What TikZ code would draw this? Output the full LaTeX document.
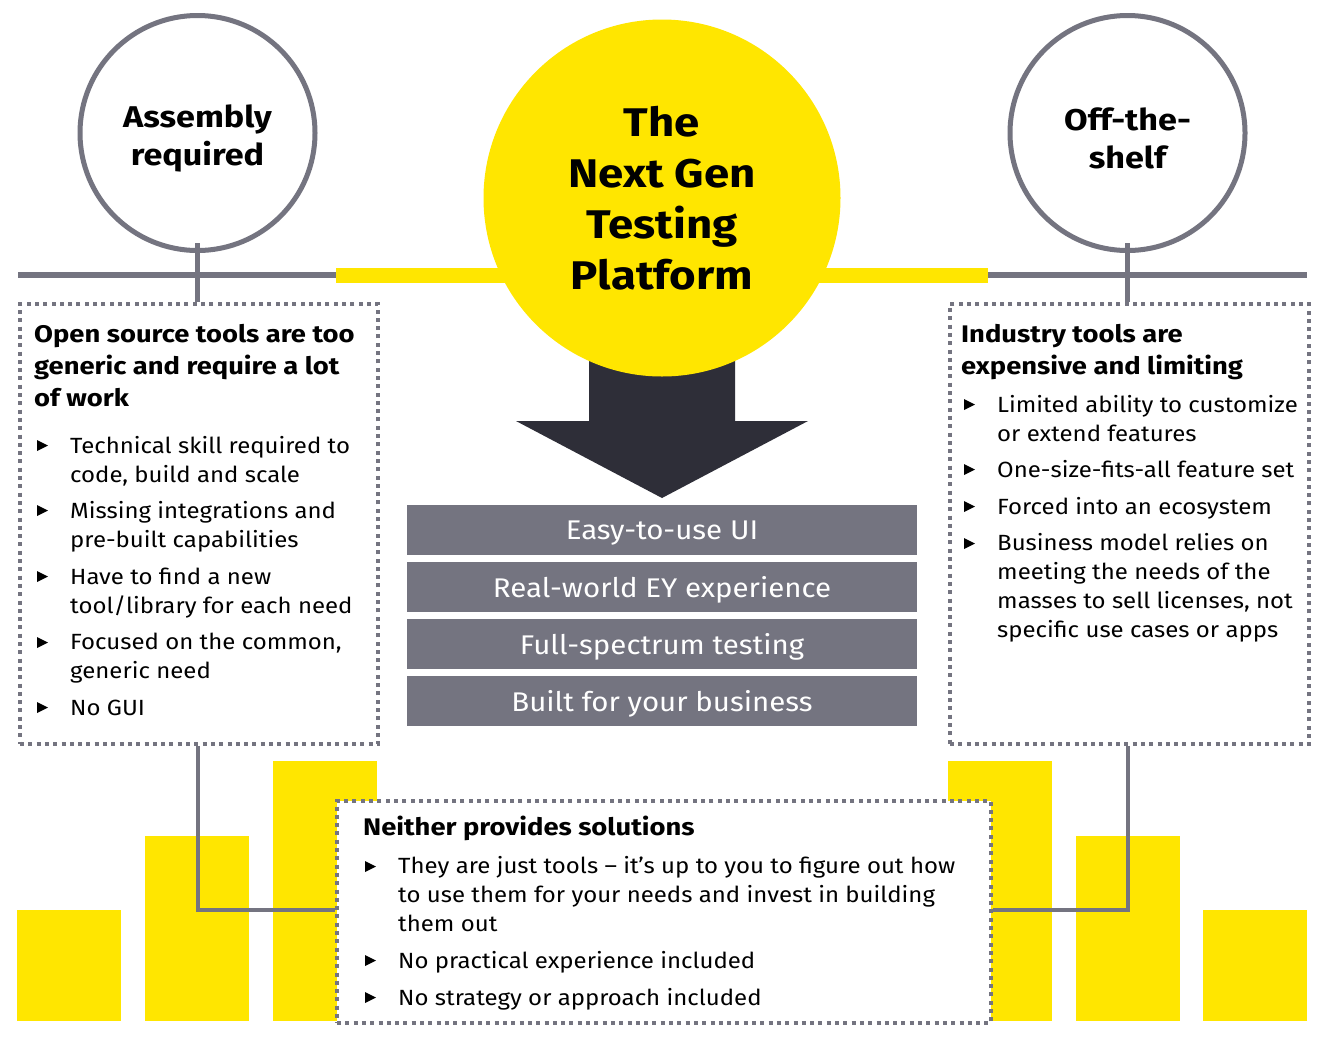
\documentclass[tikz,border=0pt]{standalone}
\usepackage{fontspec}
\setmainfont{Fira Sans}[FakeStretch=1.09]
\newfontfamily\hb{Fira Sans}[FakeStretch=1.14]
\definecolor{eyyellow}{HTML}{FFE600}
\definecolor{eygray}{HTML}{747480}
\definecolor{eydark}{HTML}{2E2E38}
\begin{document}
\begin{tikzpicture}[x=1pt,y=-1pt,
  ybar/.style={fill=eyyellow,draw=none},
  dotbox/.style={draw=eygray,fill=white,line width=4pt,dash pattern=on 4pt off 4.3pt},
  ring/.style={draw=eygray,line width=5pt,fill=white,circle,minimum size=235pt,inner sep=0pt},
  conn/.style={draw=eygray,line width=4pt},
  pbar/.style={fill=eygray,draw=none,minimum width=510pt,minimum height=50pt,inner sep=0pt,text=white,font=\fontsize{27}{30}\selectfont},
  boxtitle/.style={anchor=base west,inner sep=0pt,align=left,font=\fontsize{24}{32}\selectfont\hb\bfseries},
  item/.style={anchor=base west,inner sep=0pt,align=left,font=\fontsize{22}{28.8}\selectfont},
  ctext/.style={align=center,font=\fontsize{30}{38}\selectfont\hb\bfseries},
  tri/.style={fill=black,draw=none}
]
\useasboundingbox (0,0) rectangle (1322,1037);
\fill[white] (0,0) rectangle (1322,1037);

% yellow bars
\fill[ybar] (17,910) rectangle (121,1021);
\fill[ybar] (145,836) rectangle (249,1021);
\fill[ybar] (273,761) rectangle (377,1021);
\fill[ybar] (948,761) rectangle (1052,1021);
\fill[ybar] (1076,836) rectangle (1180,1021);
\fill[ybar] (1203,910) rectangle (1307,1021);

% main horizontal line
\coordinate (hl) at (18,275);
\coordinate (hr) at (1307,275);
\coordinate (yl) at (336,275);
\coordinate (yr) at (988,275);
\draw[eygray,line width=6pt] (hl) -- (hr);
\draw[eyyellow,line width=15pt] (yl) -- (yr);

% boxes
\node[dotbox,minimum width=358pt,minimum height=440pt,anchor=north west,inner sep=0pt] (lbox) at (18,302) {};
\node[dotbox,minimum width=359pt,minimum height=440pt,anchor=north west,inner sep=0pt] (rbox) at (948,302) {};

% stubs and circles
\node[ring] (lc) at (197.5,133) {};
\node[ring] (rc) at (1127.5,133) {};
\draw[conn,line width=5pt] (lc.south) ++(0,-10) -- (lbox.north -| lc.south);
\draw[conn,line width=5pt] (rc.south) ++(0,-10) -- (rbox.north -| rc.south);
\node[ctext] (lct) at (197.5,138) {Assembly\\required};
\node[ctext] (rct) at (1127.5,138) {Off-the-\\shelf};

% bottom connectors
\coordinate (lk) at (197.5,910);
\coordinate (rk) at (1127.5,910);

% bottom box
\node[dotbox,minimum width=654pt,minimum height=222pt,anchor=north west,inner sep=0pt] (bbox) at (335,799) {};
\draw[conn] (lbox.south -| lk) -- (lk) -- (bbox.west |- lk);
\draw[conn] (rbox.south -| rk) -- (rk) -- (bbox.east |- rk);

% arrow
\fill[eydark] (589,360) -- (735,360) -- (735,421) -- (808,421) -- (662,498) -- (516,421) -- (589,421) -- cycle;

% yellow circle
\node[circle,fill=eyyellow,minimum size=357pt,inner sep=0pt] (yc) at (662,198) {};
\node[align=center,font=\fontsize{40}{51.2}\selectfont\hb\bfseries] (yct) at (662,198) {The\\Next Gen\\Testing\\Platform};

% gray bars
\node[pbar] (b1) at (662,530) {};
\node[pbar] (b2) at (662,587) {};
\node[pbar] (b3) at (662,644) {};
\node[pbar] (b4) at (662,701) {};
\node[pbar,fill=none] (b1t) at (662,533) {Easy-to-use UI};
\node[pbar,fill=none] (b2t) at (662,590) {Real-world EY experience};
\node[pbar,fill=none] (b3t) at (662,647) {Full-spectrum testing};
\node[pbar,fill=none] (b4t) at (662,704) {Built for your business};

% left box text (base = last line)
\node[boxtitle] (lt) at (34,406) {Open source tools are too\\generic and require a lot\\of work};
\node[item] (l1) at (70,482) {Technical skill required to\\code, build and scale};
\node[item] (l2) at (70,547) {Missing integrations and\\pre-built capabilities};
\node[item] (l3) at (70,613) {Have to find a new\\tool/library for each need};
\node[item] (l4) at (70,678) {Focused on the common,\\generic need};
\node[item] (l5) at (70,715) {No GUI};
\foreach \y in {453,518,584,650,715}{
  \fill[tri] (37,\y-13) -- (48,\y-7.5) -- (37,\y-2) -- cycle;
}

% right box text
\node[boxtitle] (rt) at (961,374) {Industry tools are\\expensive and limiting};
\node[item] (r1) at (997,441) {Limited ability to customize\\or extend features};
\node[item] (r2) at (997,477) {One-size-fits-all feature set};
\node[item] (r3) at (997,514) {Forced into an ecosystem};
\node[item] (r4) at (997,637) {Business model relies on\\meeting the needs of the\\masses to sell licenses, not\\specific use cases or apps};
\foreach \y in {412,477,514,551}{
  \fill[tri] (964,\y-13) -- (975,\y-7.5) -- (964,\y-2) -- cycle;
}

% bottom box text
\node[boxtitle] (bt) at (363,835) {Neither provides solutions};
\node[item] (c1) at (398,931) {They are just tools – it’s up to you to figure out how\\to use them for your needs and invest in building\\them out};
\node[item] (c2) at (398,968) {No practical experience included};
\node[item] (c3) at (398,1005) {No strategy or approach included};
\foreach \y in {874,968,1005}{
  \fill[tri] (365,\y-13) -- (376,\y-7.5) -- (365,\y-2) -- cycle;
}
\end{tikzpicture}
\end{document}
